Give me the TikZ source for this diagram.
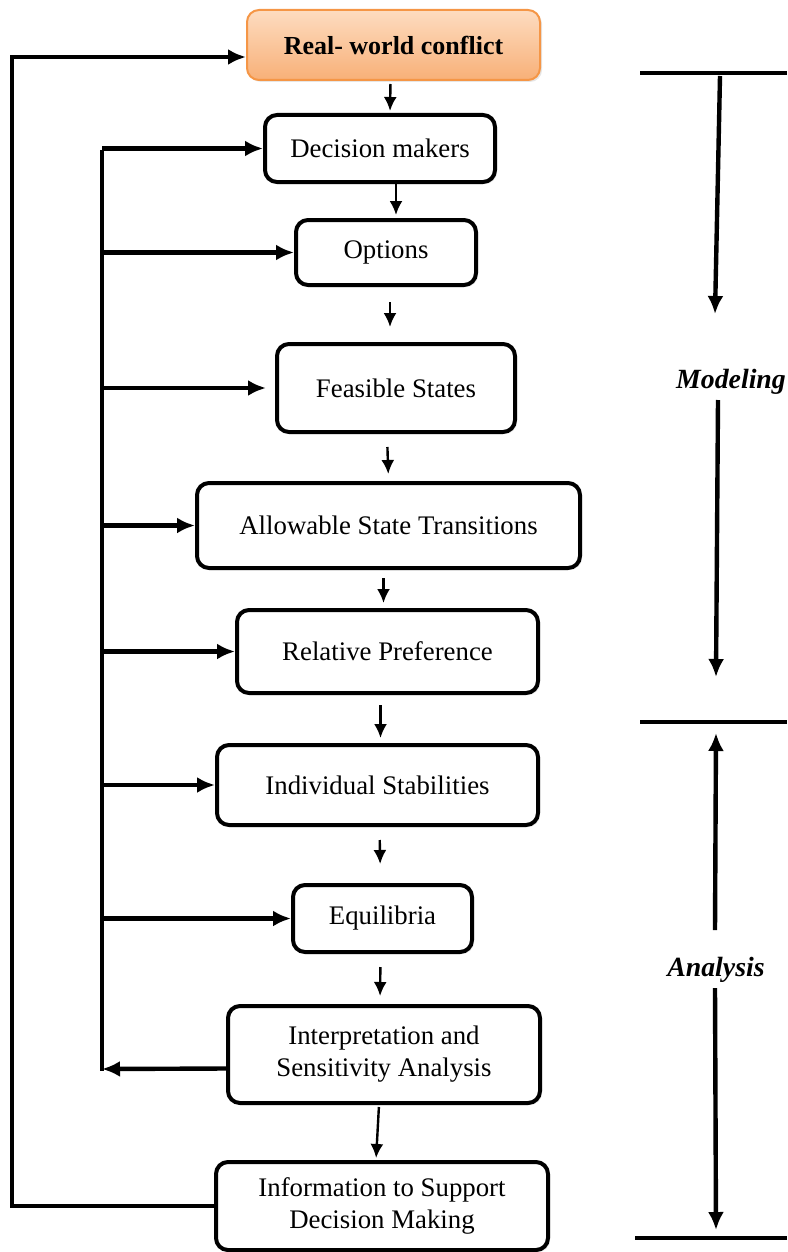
\documentclass[tikz,border=0pt]{standalone}
\usepackage{fontspec}
\setmainfont{Liberation Serif}
\usetikzlibrary{arrows.meta,shadows}

\definecolor{peachtop}{RGB}{253,220,192}
\definecolor{peachbot}{RGB}{248,176,120}
\definecolor{peachline}{RGB}{245,150,70}

\tikzset{
  stage/.style={draw, line width=2pt, rounded corners=6pt, fill=white,
    align=center, inner sep=0pt, font=\fontsize{13.4}{16}\selectfont,
    drop shadow={opacity=0.2, shadow xshift=1pt, shadow yshift=-1pt}},
  source/.style={draw=peachline, line width=1pt, rounded corners=6pt,
    top color=peachtop, bottom color=peachbot, align=center, inner sep=0pt,
    font=\fontsize{13}{16}\selectfont\bfseries,
    drop shadow={opacity=0.2, shadow xshift=1pt, shadow yshift=-1pt}},
  flow/.style={line width=1.2pt, -{Latex[length=7pt,width=6.5pt]}},
  bus/.style={line width=2.2pt},
  feed/.style={bus, -{Latex[length=9pt,width=8pt]}},
  phase/.style={line width=2.2pt, -{Latex[length=9pt,width=8pt]}},
  phasename/.style={font=\fontsize{13.9}{16}\selectfont\bfseries\itshape}
}

\begin{document}
\begin{tikzpicture}[x=0.5pt, y=-0.5pt]
    \useasboundingbox (0,0) rectangle (787,1252);

    % stages of the model
    \node [source, minimum width=146.5pt, minimum height=35pt] (conf) at (393.5,45) {Real- world conflict};
    \node [stage, minimum width=115pt, minimum height=33.5pt] (dm) at (380,148.5) {Decision makers};
    \node [stage, minimum width=90pt, minimum height=32.5pt] (opt) at (386,252.5) {Options};
    \node [stage, minimum width=119pt, minimum height=44pt] (feas) at (396,388) {Feasible States};
    \node [stage, minimum width=191.5pt, minimum height=42.5pt] (allow) at (388.5,525.5) {Allowable State Transitions};
    \node [stage, minimum width=150.5pt, minimum height=41.5pt] (rel) at (387.5,651.5) {Relative Preference};
    \node [stage, minimum width=160.5pt, minimum height=40pt] (indiv) at (377.5,785) {Individual Stabilities};
    \node [stage, minimum width=89.5pt, minimum height=33.5pt] (equil) at (382.5,918.5) {Equilibria};
    \node [stage, minimum width=156pt, minimum height=48.5pt] (interp) at (384,1054.5) {Interpretation and\\Sensitivity Analysis};
    \node [stage, minimum width=166pt, minimum height=44pt] (info) at (382,1206) {Information to Support\\Decision Making};

    % downward steps
    \draw [flow, shorten <=1.5pt, shorten >=1pt] ([xshift=-1.5pt]conf.south) -- ([xshift=5pt]dm.north);
    \draw [flow, shorten >=1.5pt] ([xshift=8pt]dm.south) -- ([xshift=5pt]opt.north);
    \draw [flow, shorten <=7.5pt, shorten >=7.5pt] ([xshift=2pt]opt.south) -- ([xshift=-3pt]feas.north);
    \draw [flow, shorten <=6.5pt, shorten >=3.5pt] ([xshift=-4.5pt]feas.south) -- (allow.north);
    \draw [flow, shorten <=4pt, shorten >=2.5pt] ([xshift=-2.5pt]allow.south) -- ([xshift=-2pt]rel.north);
    \draw [flow, shorten <=5pt, shorten >=2.5pt] ([xshift=-3.5pt]rel.south) -- ([xshift=1.5pt]indiv.north);
    \draw [flow, shorten <=6.5pt, shorten >=9.5pt] ([xshift=1pt]indiv.south) -- ([xshift=-1pt]equil.north);
    \draw [flow, shorten <=6.5pt, shorten >=4pt] ([xshift=-1pt]equil.south) -- ([xshift=-2pt]interp.north);
    \draw [flow, shorten <=1pt, shorten >=1pt] ([xshift=-2.5pt]interp.south) -- ([xshift=-3pt]info.north);

    % inner feedback bus
    \coordinate (inner) at (102,150);
    \draw [bus] (inner) -- (inner |- 0,1071);
    \foreach \b/\s in {dm/0pt, opt/0pt, feas/4.5pt, allow/0pt, rel/0pt, indiv/0pt, equil/0pt}
        \draw [feed, shorten >=\s] (inner |- \b.west) -- (\b.west);
    \draw [feed] ([yshift=-7pt]interp.west) -- (inner |- 0,1069);

    % outer feedback loop
    \coordinate (outer) at (12,57);
    \draw [feed] (info.west) -| (outer) -- ([yshift=-6pt]conf.west);

    % phase scale
    \coordinate (topl) at (640,73);   \coordinate (topr) at (787,73);
    \coordinate (midl) at (640,722);  \coordinate (midr) at (787,722);
    \coordinate (botl) at (635,1238); \coordinate (botr) at (787,1238);
    \draw [bus] (topl) -- (topr);
    \draw [bus] (midl) -- (midr);
    \draw [bus] (botl) -- (botr);

    \node [phasename] (modeling) at (731,382) {Modeling};
    \node [phasename] (analysis) at (716,970) {Analysis};

    \coordinate (m1) at (720,76);  \coordinate (m2) at (715,314);
    \coordinate (m3) at (718,400); \coordinate (m4) at (716,677);
    \coordinate (a1) at (715,930); \coordinate (a2) at (716,733);
    \coordinate (a3) at (715,988); \coordinate (a4) at (716,1230);
    \draw [phase] (m1) -- (m2);
    \draw [phase] (m3) -- (m4);
    \draw [phase] (a1) -- (a2);
    \draw [phase] (a3) -- (a4);
\end{tikzpicture}
\end{document}
